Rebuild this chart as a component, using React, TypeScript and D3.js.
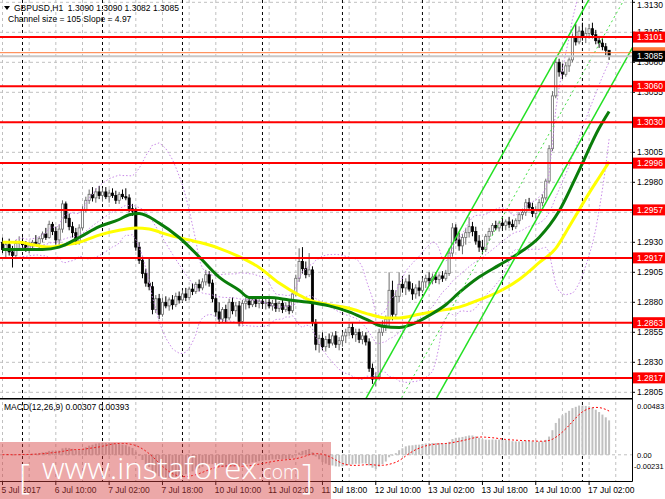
import React from 'react';
import * as d3 from 'd3';

// open, high, low, close
type Candle = [number, number, number, number];

const jul05: Candle[] = [
  [1.2930, 1.2934, 1.2921, 1.2924], [1.2924, 1.2931, 1.2917, 1.2928], [1.2928, 1.2933, 1.2919, 1.2922],
  [1.2922, 1.2927, 1.2909, 1.2919], [1.2919, 1.2932, 1.2916, 1.2929], [1.2929, 1.2935, 1.2924, 1.2930],
];
const jul06: Candle[] = [
  [1.2930, 1.2934, 1.2926, 1.2928], [1.2928, 1.2931, 1.2922, 1.2924], [1.2924, 1.2930, 1.2921, 1.2927],
  [1.2927, 1.2932, 1.2924, 1.2930], [1.2930, 1.2936, 1.2927, 1.2929], [1.2929, 1.2935, 1.2925, 1.2933],
  [1.2933, 1.2939, 1.2930, 1.2937], [1.2937, 1.2942, 1.2932, 1.2934], [1.2934, 1.2948, 1.2933, 1.2945],
  [1.2945, 1.2947, 1.2936, 1.2939], [1.2939, 1.2943, 1.2928, 1.2932], [1.2932, 1.2945, 1.2926, 1.2941],
  [1.2941, 1.2965, 1.2938, 1.2962], [1.2962, 1.2964, 1.2946, 1.2950], [1.2950, 1.2954, 1.2940, 1.2943],
  [1.2943, 1.2947, 1.2934, 1.2938], [1.2938, 1.2942, 1.2928, 1.2931], [1.2931, 1.2945, 1.2928, 1.2942],
  [1.2942, 1.2960, 1.2940, 1.2957], [1.2957, 1.2968, 1.2955, 1.2965], [1.2965, 1.2974, 1.2962, 1.2970],
  [1.2970, 1.2976, 1.2964, 1.2967], [1.2967, 1.2975, 1.2963, 1.2972], [1.2972, 1.2977, 1.2966, 1.2969],
];
const jul07: Candle[] = [
  [1.2969, 1.2975, 1.2964, 1.2972], [1.2972, 1.2976, 1.2966, 1.2968], [1.2968, 1.2974, 1.2963, 1.2971],
  [1.2971, 1.2975, 1.2967, 1.2969], [1.2969, 1.2973, 1.2962, 1.2965], [1.2965, 1.2972, 1.2962, 1.2970],
  [1.2970, 1.2974, 1.2966, 1.2968], [1.2968, 1.2975, 1.2965, 1.2967], [1.2967, 1.2970, 1.2955, 1.2958],
  [1.2958, 1.2962, 1.2952, 1.2956], [1.2956, 1.2959, 1.2923, 1.2926], [1.2926, 1.2930, 1.2912, 1.2915],
  [1.2915, 1.2918, 1.2900, 1.2904], [1.2904, 1.2908, 1.2893, 1.2896], [1.2896, 1.2917, 1.2890, 1.2893],
  [1.2893, 1.2897, 1.2870, 1.2874], [1.2874, 1.2886, 1.2871, 1.2883], [1.2883, 1.2887, 1.2866, 1.2870],
  [1.2870, 1.2884, 1.2868, 1.2880], [1.2880, 1.2885, 1.2875, 1.2877], [1.2877, 1.2884, 1.2873, 1.2882],
  [1.2882, 1.2886, 1.2874, 1.2878], [1.2878, 1.2888, 1.2876, 1.2885], [1.2885, 1.2889, 1.2879, 1.2882],
];
const jul10: Candle[] = [
  [1.2882, 1.2890, 1.2880, 1.2887], [1.2887, 1.2892, 1.2881, 1.2884], [1.2884, 1.2893, 1.2882, 1.2891],
  [1.2891, 1.2896, 1.2886, 1.2889], [1.2889, 1.2897, 1.2887, 1.2895], [1.2895, 1.2899, 1.2889, 1.2892],
  [1.2892, 1.2900, 1.2890, 1.2897], [1.2897, 1.2907, 1.2894, 1.2903], [1.2903, 1.2906, 1.2893, 1.2896],
  [1.2896, 1.2899, 1.2880, 1.2883], [1.2883, 1.2887, 1.2868, 1.2872], [1.2872, 1.2880, 1.2862, 1.2866],
  [1.2866, 1.2876, 1.2863, 1.2874], [1.2874, 1.2878, 1.2863, 1.2867], [1.2867, 1.2883, 1.2865, 1.2880],
  [1.2880, 1.2884, 1.2870, 1.2873], [1.2873, 1.2880, 1.2868, 1.2877], [1.2877, 1.2881, 1.2860, 1.2864],
  [1.2864, 1.2882, 1.2862, 1.2879], [1.2879, 1.2884, 1.2874, 1.2881], [1.2881, 1.2885, 1.2875, 1.2878],
  [1.2878, 1.2884, 1.2876, 1.2882], [1.2882, 1.2885, 1.2876, 1.2879], [1.2879, 1.2883, 1.2875, 1.2881],
];
const jul11: Candle[] = [
  [1.2881, 1.2886, 1.2877, 1.2879], [1.2879, 1.2883, 1.2874, 1.2880], [1.2880, 1.2884, 1.2875, 1.2877],
  [1.2877, 1.2882, 1.2873, 1.2879], [1.2879, 1.2883, 1.2872, 1.2875], [1.2875, 1.2881, 1.2872, 1.2879],
  [1.2879, 1.2882, 1.2871, 1.2874], [1.2874, 1.2880, 1.2872, 1.2877], [1.2877, 1.2882, 1.2870, 1.2873],
  [1.2873, 1.2889, 1.2871, 1.2887], [1.2887, 1.2903, 1.2885, 1.2900], [1.2900, 1.2925, 1.2897, 1.2914],
  [1.2914, 1.2926, 1.2904, 1.2908], [1.2908, 1.2914, 1.2900, 1.2903], [1.2903, 1.2921, 1.2901, 1.2907],
  [1.2907, 1.2910, 1.2860, 1.2863], [1.2863, 1.2866, 1.2840, 1.2845], [1.2845, 1.2853, 1.2838, 1.2850],
  [1.2850, 1.2855, 1.2840, 1.2843], [1.2843, 1.2852, 1.2839, 1.2849], [1.2849, 1.2854, 1.2842, 1.2846],
  [1.2846, 1.2855, 1.2844, 1.2852], [1.2852, 1.2856, 1.2842, 1.2845], [1.2845, 1.2851, 1.2840, 1.2848],
];
const jul12: Candle[] = [
  [1.2848, 1.2855, 1.2843, 1.2852], [1.2852, 1.2858, 1.2846, 1.2855], [1.2855, 1.2862, 1.2852, 1.2859],
  [1.2859, 1.2863, 1.2850, 1.2853], [1.2853, 1.2858, 1.2847, 1.2855], [1.2855, 1.2858, 1.2846, 1.2849],
  [1.2849, 1.2856, 1.2845, 1.2852], [1.2852, 1.2855, 1.2844, 1.2847], [1.2847, 1.2850, 1.2822, 1.2825],
  [1.2825, 1.2829, 1.2812, 1.2816], [1.2816, 1.2822, 1.2810, 1.2818], [1.2818, 1.2858, 1.2815, 1.2855],
  [1.2855, 1.2865, 1.2852, 1.2861], [1.2861, 1.2869, 1.2856, 1.2866], [1.2866, 1.2905, 1.2860, 1.2890],
  [1.2890, 1.2898, 1.2865, 1.2870], [1.2870, 1.2890, 1.2866, 1.2885], [1.2885, 1.2905, 1.2880, 1.2895],
  [1.2895, 1.2902, 1.2888, 1.2892], [1.2892, 1.2900, 1.2886, 1.2897], [1.2897, 1.2903, 1.2889, 1.2891],
  [1.2891, 1.2896, 1.2882, 1.2887], [1.2887, 1.2895, 1.2883, 1.2892], [1.2892, 1.2898, 1.2885, 1.2890],
];
const jul13: Candle[] = [
  [1.2890, 1.2900, 1.2888, 1.2897], [1.2897, 1.2903, 1.2892, 1.2900], [1.2900, 1.2905, 1.2894, 1.2898],
  [1.2898, 1.2904, 1.2895, 1.2901], [1.2901, 1.2905, 1.2896, 1.2899], [1.2899, 1.2904, 1.2895, 1.2902],
  [1.2902, 1.2906, 1.2897, 1.2900], [1.2900, 1.2907, 1.2898, 1.2904], [1.2904, 1.2925, 1.2902, 1.2921],
  [1.2921, 1.2946, 1.2918, 1.2942], [1.2942, 1.2945, 1.2929, 1.2932], [1.2932, 1.2938, 1.2923, 1.2927],
  [1.2927, 1.2937, 1.2920, 1.2934], [1.2934, 1.2942, 1.2928, 1.2938], [1.2938, 1.2951, 1.2934, 1.2943],
  [1.2943, 1.2947, 1.2935, 1.2939], [1.2939, 1.2943, 1.2928, 1.2931], [1.2931, 1.2936, 1.2922, 1.2926],
  [1.2926, 1.2932, 1.2920, 1.2924], [1.2924, 1.2937, 1.2922, 1.2935], [1.2935, 1.2942, 1.2931, 1.2939],
  [1.2939, 1.2946, 1.2936, 1.2944], [1.2944, 1.2948, 1.2940, 1.2942], [1.2942, 1.2948, 1.2939, 1.2946],
];
const jul14: Candle[] = [
  [1.2946, 1.2950, 1.2941, 1.2944], [1.2944, 1.2949, 1.2940, 1.2947], [1.2947, 1.2951, 1.2942, 1.2945],
  [1.2945, 1.2949, 1.2940, 1.2943], [1.2943, 1.2950, 1.2941, 1.2948], [1.2948, 1.2955, 1.2945, 1.2953],
  [1.2953, 1.2958, 1.2949, 1.2955], [1.2955, 1.2966, 1.2952, 1.2963], [1.2963, 1.2967, 1.2956, 1.2959],
  [1.2959, 1.2963, 1.2951, 1.2954], [1.2954, 1.2960, 1.2950, 1.2957], [1.2957, 1.2966, 1.2955, 1.2963],
  [1.2963, 1.2970, 1.2960, 1.2967], [1.2967, 1.2983, 1.2965, 1.2981], [1.2981, 1.3011, 1.2979, 1.3008],
  [1.3008, 1.3056, 1.3006, 1.3052], [1.3052, 1.3083, 1.3050, 1.3080], [1.3080, 1.3083, 1.3068, 1.3072],
  [1.3072, 1.3079, 1.3066, 1.3070], [1.3070, 1.3080, 1.3068, 1.3077], [1.3077, 1.3084, 1.3072, 1.3082],
  [1.3082, 1.3104, 1.3080, 1.3101], [1.3101, 1.3112, 1.3094, 1.3097], [1.3097, 1.3110, 1.3095, 1.3106],
];
const jul17: Candle[] = [
  [1.3106, 1.3113, 1.3098, 1.3101], [1.3101, 1.3109, 1.3096, 1.3104], [1.3104, 1.3112, 1.3100, 1.3108],
  [1.3108, 1.3113, 1.3100, 1.3103], [1.3103, 1.3107, 1.3095, 1.3098], [1.3098, 1.3102, 1.3092, 1.3096],
  [1.3096, 1.3100, 1.3090, 1.3093], [1.3093, 1.3096, 1.3086, 1.3090], [1.3090, 1.3090, 1.3082, 1.3085],
];

const candles: Candle[] = [...jul05, ...jul06, ...jul07, ...jul10, ...jul11, ...jul12, ...jul13, ...jul14, ...jul17];

// moving averages: [bar, price]
const greenMa: [number, number][] = [
  [0, 1.2924], [6, 1.2924], [12, 1.2924], [17, 1.2926], [23, 1.2934], [29, 1.2943], [35, 1.2949],
  [38, 1.2953], [41, 1.2954], [47, 1.2946], [53, 1.2934], [59, 1.2918], [65, 1.2901], [71, 1.2890],
  [74, 1.2884], [80, 1.2884], [86, 1.2882], [92, 1.2880], [98, 1.2877], [104, 1.2872], [109, 1.2866],
  [114, 1.2860], [119, 1.2859], [124, 1.2863], [128, 1.2869], [133, 1.2878], [137, 1.2888],
  [143, 1.2901], [149, 1.2911], [155, 1.2921], [161, 1.2934], [167, 1.2956], [173, 1.2990],
  [179, 1.3025], [182, 1.3039],
];
const yellowMa: [number, number][] = [
  [0, 1.2930], [5, 1.2930], [9, 1.2928], [14, 1.2926], [19, 1.2928], [23, 1.2930], [29, 1.2936],
  [35, 1.2940], [40, 1.2942], [44, 1.2941], [50, 1.2936], [56, 1.2932], [59, 1.2930], [65, 1.2925],
  [71, 1.2918], [77, 1.2909], [83, 1.2896], [89, 1.2886], [92, 1.2882], [98, 1.2878], [104, 1.2875],
  [110, 1.2870], [115, 1.2867], [119, 1.2867], [125, 1.2870], [131, 1.2873], [137, 1.2876],
  [143, 1.2882], [149, 1.2889], [155, 1.2899], [161, 1.2913], [166, 1.2925], [170, 1.2943],
  [173, 1.2957], [176, 1.2971], [179, 1.2984], [182, 1.2997],
];

const priceTicks = [1.313, 1.3105, 1.308, 1.3055, 1.303, 1.3005, 1.298, 1.2955, 1.293, 1.2905, 1.288, 1.2855, 1.283, 1.2805];
const levelLines = [1.3101, 1.306, 1.303, 1.2996, 1.2957, 1.2917, 1.2863, 1.2817];
const askPrice = 1.3088;
const bidPrice = 1.3085;

const timeLabels = ['5 Jul 2017', '6 Jul 10:00', '7 Jul 02:00', '7 Jul 18:00', '10 Jul 10:00', '11 Jul 02:00',
  '11 Jul 18:00', '12 Jul 10:00', '13 Jul 02:00', '13 Jul 18:00', '14 Jul 10:00', '17 Jul 02:00'];
const timeLabelBars = [0, 16, 32, 48, 64, 80, 96, 112, 128, 144, 160, 176];
const daySeparatorBars = [6, 30, 54, 78, 102, 126, 150, 174];

const macdTicks = [0.00483, 0, -0.00231];
const macdTickLabels = ['0.00483', '0.00', '-0.00231'];

// regression channel
const channelSize = 0.0105;
const channelSlope = 0.000497;
const channelAnchorBar = 142.5;
const channelAnchorUpper = 1.29661;

const titleText = 'GBPUSD,H1  1.3090 1.3090 1.3082 1.3085';
const channelText = 'Channel size = 105 Slope = 4.97';
const macdText = 'MACD(12,26,9) 0.00307 0.00393';

const W = 665;
const H = 499;
const plotRight = 632;
const priceBottom = 398;
const macdTop = 400;
const macdBottom = 481;
const font = 'Liberation Sans, Arial, sans-serif';

const closes = candles.map((c) => c[3]);

const bands = closes.map((_, i) => {
  const win = closes.slice(Math.max(0, i - 19), i + 1);
  const m = d3.mean(win) as number;
  const sd = Math.sqrt(d3.mean(win, (v) => (v - m) * (v - m)) as number);
  return { i, mid: m, up: m + 2 * sd, low: m - 2 * sd };
});

const ema = (n: number) => {
  const k = 2 / (n + 1);
  const out: number[] = [];
  closes.forEach((c, i) => out.push(i === 0 ? c : out[i - 1] + k * (c - out[i - 1])));
  return out;
};
const ema12 = ema(12);
const ema26 = ema(26);
const macd = closes.map((_, i) => ema12[i] - ema26[i]);
const signal = macd.map((_, i) => d3.mean(macd.slice(Math.max(0, i - 8), i + 1)) as number);

export default function App() {
  const x = d3.scaleLinear().domain([0, 176]).range([2.5, 589.1]);
  const y = d3.scaleLinear().domain([1.2805, 1.313]).range([392.3, 2.3]);
  const ym = d3.scaleLinear().domain([-0.00231, 0.00483]).range([macdBottom, macdTop]);

  const maLine = d3.line<[number, number]>().x((d) => x(d[0])).y((d) => y(d[1])).curve(d3.curveMonotoneX);
  const bandLine = (key: 'mid' | 'up' | 'low') =>
    d3.line<(typeof bands)[number]>().x((d) => x(d.i)).y((d) => y(d[key]))(bands.slice(4)) as string;
  const signalLine = d3.line<number>().x((_, i) => x(i)).y((d) => ym(d))(signal) as string;

  const chan = (offset: number) => {
    const p = (b: number) => channelAnchorUpper + (b - channelAnchorBar) * channelSlope - offset;
    return { x1: x(100), y1: y(p(100)), x2: x(190), y2: y(p(190)) };
  };

  const gridBars = d3.range(0, 190, 8);
  // axis labels that sit right under a level box are hidden in the original
  const boxPrices = [...levelLines, bidPrice];
  const axisLabels = priceTicks.filter((p) => boxPrices.every((b) => Math.abs(y(b) - y(p)) > 4));

  return (
    <svg width={W} height={H} style={{ position: 'absolute', left: 0, top: 0 }} fontFamily={font}>
      <defs>
        <clipPath id="pclip"><rect x={0} y={0} width={plotRight} height={priceBottom} /></clipPath>
        <clipPath id="mclip"><rect x={0} y={macdTop} width={plotRight} height={macdBottom - macdTop} /></clipPath>
      </defs>
      <rect width={W} height={H} fill="#fff" />

      {/* grid */}
      {priceTicks.map((p) => (
        <line key={p} x1={0} x2={plotRight} y1={y(p)} y2={y(p)} stroke="#c0c0c0" strokeDasharray="3,3" />
      ))}
      <line x1={0} x2={plotRight} y1={ym(0)} y2={ym(0)} stroke="#c0c0c0" strokeDasharray="3,3" />
      {gridBars.map((b) => (
        <line key={b} x1={x(b)} x2={x(b)} y1={0} y2={macdBottom} stroke="#c0c0c0" strokeDasharray="3,3" />
      ))}
      {daySeparatorBars.map((b) => (
        <line key={b} x1={x(b)} x2={x(b)} y1={0} y2={macdBottom} stroke="#000" strokeDasharray="3,3" />
      ))}

      <g clipPath="url(#pclip)">
        {candles.map((c, i) => {
          const [o, h, l, cl] = c;
          const up = cl >= o;
          const col = up ? '#6a6a6a' : '#000';
          const top = y(Math.max(o, cl));
          const bot = y(Math.min(o, cl));
          return (
            <g key={i}>
              <line x1={x(i)} x2={x(i)} y1={y(h)} y2={y(l)} stroke={col} />
              <rect x={x(i) - 1.1} y={top} width={2.2} height={Math.max(bot - top, 0.8)}
                fill={up ? '#fff' : '#000'} stroke={col} strokeWidth={0.8} />
            </g>
          );
        })}

        {(['up', 'mid', 'low'] as const).map((k) => (
          <path key={k} d={bandLine(k)} fill="none" stroke="#c98ae8" strokeWidth={1} strokeDasharray="1.5,2" />
        ))}
        <path d={maLine(yellowMa) as string} fill="none" stroke="#ffff00" strokeWidth={3} />
        <path d={maLine(greenMa) as string} fill="none" stroke="#0a7d0a" strokeWidth={3} />

        <line {...chan(0)} stroke="#22e022" strokeWidth={1.5} />
        <line {...chan(channelSize / 2)} stroke="#44e044" strokeWidth={1} strokeDasharray="2,3" />
        <line {...chan(channelSize)} stroke="#22e022" strokeWidth={1.5} />

        {levelLines.map((p) => (
          <line key={p} x1={0} x2={plotRight} y1={y(p)} y2={y(p)} stroke="#ff0000" strokeWidth={2} />
        ))}
        <line x1={0} x2={plotRight} y1={y(askPrice)} y2={y(askPrice)} stroke="#ff7a3a" strokeWidth={1} />
        <line x1={0} x2={plotRight} y1={y(bidPrice)} y2={y(bidPrice)} stroke="#c8c8c8" strokeWidth={2} />
      </g>

      <g clipPath="url(#mclip)">
        {macd.map((v, i) => (
          <rect key={i} x={x(i) - 1} width={2} y={Math.min(ym(v), ym(0))} height={Math.abs(ym(v) - ym(0))} fill="#c0c0c0" />
        ))}
        <path d={signalLine} fill="none" stroke="#ff0000" strokeWidth={1} strokeDasharray="2,2" />
      </g>

      {/* frames */}
      <line x1={0} x2={plotRight} y1={priceBottom + 0.5} y2={priceBottom + 0.5} stroke="#000" />
      <line x1={0} x2={plotRight} y1={macdTop - 0.5} y2={macdTop - 0.5} stroke="#808080" />
      <line x1={0} x2={plotRight + 0.5} y1={macdBottom + 0.5} y2={macdBottom + 0.5} stroke="#000" />
      <line x1={plotRight + 0.5} x2={plotRight + 0.5} y1={0} y2={macdBottom + 0.5} stroke="#000" />

      {/* price axis */}
      {priceTicks.map((p) => (
        <line key={p} x1={plotRight} x2={plotRight + 3} y1={y(p)} y2={y(p)} stroke="#000" />
      ))}
      {axisLabels.map((p) => (
        <text key={p} x={637} y={Math.max(y(p), 5) + 3} fontSize={8.5} fill="#000">{p.toFixed(4)}</text>
      ))}
      {levelLines.map((p) => (
        <g key={p}>
          <rect x={633} y={y(p) - 5.5} width={32} height={11} fill="#ff0000" />
          <text x={637} y={y(p) + 3} fontSize={8.5} fill="#fff">{p.toFixed(4)}</text>
        </g>
      ))}
      <rect x={633} y={y(askPrice) - 5.5} width={32} height={11} fill="#ff7a3a" />
      <rect x={633} y={y(bidPrice) - 5.5} width={32} height={11} fill="#000" />
      <text x={637} y={y(bidPrice) + 3} fontSize={8.5} fill="#fff">{bidPrice.toFixed(4)}</text>

      {/* macd axis */}
      {macdTicks.map((v, i) => (
        <text key={v} x={v < 0 ? 634 : 637} y={i === 0 ? 409 : i === 1 ? ym(v) + 3 : 469} fontSize={7.5} fill="#000">
          {macdTickLabels[i]}
        </text>
      ))}

      {/* time axis */}
      {timeLabelBars.map((b, i) => (
        <g key={b}>
          <line x1={x(b)} x2={x(b)} y1={macdBottom} y2={macdBottom + 4} stroke="#000" />
          <text x={x(b) - 1} y={493} fontSize={8.5} fill="#000">{timeLabels[i]}</text>
        </g>
      ))}

      {/* header */}
      <path d="M4,6 L10,6 L7,10 Z" fill="#000" />
      <text x={14} y={11} fontSize={8.5} fill="#000" style={{ whiteSpace: 'pre' }}>{titleText}</text>
      <text x={8} y={22} fontSize={8.5} fill="#000">{channelText}</text>
      <text x={4} y={410} fontSize={8.5} fill="#000">{macdText}</text>

      {/* watermark */}
      <rect x={0} y={442} width={331} height={57} fill="#d43d3d" opacity={0.45} />
      <g fill="#fff" fontFamily="Open Sans, Lato, sans-serif" fontWeight={300}>
        <text x={19} y={489} fontSize={34}>[</text>
        <text x={42} y={479} fontSize={30} textLength={215} lengthAdjust="spacingAndGlyphs">www.instaforex</text>
        <text x={258} y={479} fontSize={21} textLength={42} lengthAdjust="spacingAndGlyphs">.com</text>
        <text x={302} y={489} fontSize={34}>]</text>
      </g>
    </svg>
  );
}
